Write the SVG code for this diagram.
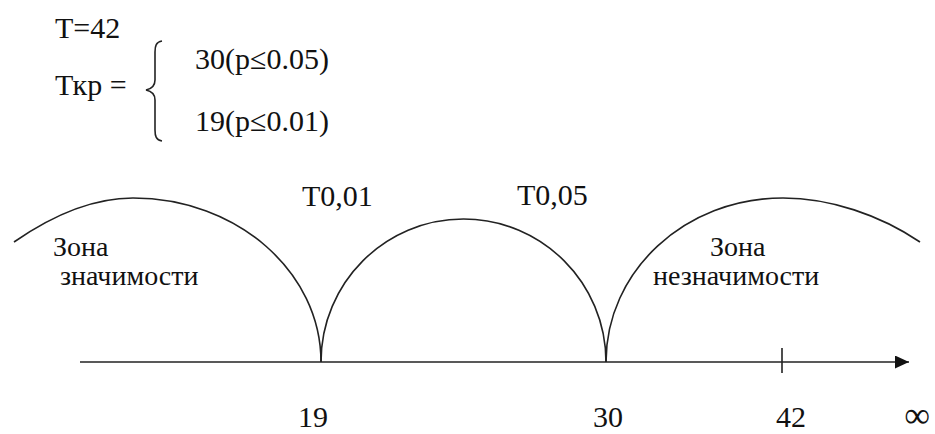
<svg xmlns="http://www.w3.org/2000/svg" width="935" height="434" viewBox="0 0 935 434">
<style>
  text { fill: #111; font-size: 30px; font-family: "Liberation Serif", "Times New Roman", serif; }
  .zone { font-size: 28px; }
  .inf { font-size: 36px; }
  .curve { fill: none; stroke: #222; stroke-width: 1.6; }
  .axis { fill: none; stroke: #222; stroke-width: 1.6; }
</style>
<defs>
  <marker id="arrow" viewBox="0 0 14 13" refX="14" refY="6.5" markerWidth="14" markerHeight="13" markerUnits="userSpaceOnUse" orient="auto">
    <path d="M0,0 L14,6.5 L0,13 Z" fill="#111"/>
  </marker>
</defs>
<g id="formula">
  <text x="55" y="38">T=42</text>
  <text x="55" y="95">Ткр =</text>
  <path class="curve" d="M162,41 C156,42 155,46 155,52 L155,80 C155,86 151,89 146,90 C151,91 155,94 155,100 L155,130 C155,136 156,140 162,141" stroke-width="1.3"/>
  <text x="195" y="69">30(p≤0.05)</text>
  <text x="195" y="131">19(p≤0.01)</text>
</g>
<g id="connectors">
  <line class="axis" x1="80" y1="362" x2="909" y2="362" marker-end="url(#arrow)"/>
  <line class="axis" x1="782" y1="348" x2="782" y2="373"/>
</g>
<g id="zone-significant">
  <path class="curve" d="M14,242 C50,217 90,198 133,198 C237,198 321,272 321,362"/>
  <text class="zone" x="53" y="256">Зона</text>
  <text class="zone" x="60" y="285">значимости</text>
</g>
<g id="zone-middle">
  <path class="curve" d="M321,362 C321,283 385,219 463.5,219 C542,219 606,283 606,362"/>
</g>
<g id="zone-insignificant">
  <path class="curve" d="M606,362 C606,271 685,198 783,198 C830,198 880,215 920,242"/>
  <text class="zone" x="710" y="256">Зона</text>
  <text class="zone" x="653" y="285">незначимости</text>
</g>
<g id="labels">
  <text x="302" y="206">T0,01</text>
  <text x="517" y="205">T0,05</text>
  <text x="313" y="427" text-anchor="middle">19</text>
  <text x="608" y="427" text-anchor="middle">30</text>
  <text x="791" y="427" text-anchor="middle">42</text>
  <text class="inf" x="917" y="427" text-anchor="middle">∞</text>
</g>
</svg>
